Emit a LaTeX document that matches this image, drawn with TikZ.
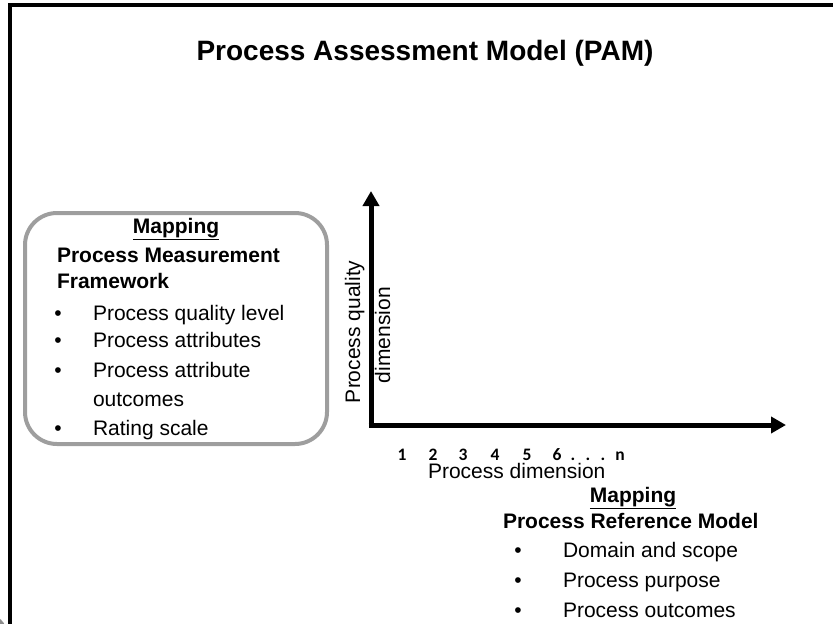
\documentclass[tikz,border=0pt]{standalone}
\usepackage{fontspec}
\setmainfont{Liberation Sans}
\newfontfamily\numfont{Carlito}
\usetikzlibrary{arrows.meta}

\tikzset{
  txt/.style={inner sep=0pt, outer sep=0pt, anchor=base west, font=\fontsize{21}{25}\selectfont},
  hd/.style={txt, font=\fontsize{21}{25}\selectfont\bfseries},
  tick/.style={inner sep=0pt, anchor=base, font=\fontsize{17.5}{19}\selectfont\numfont\bfseries},
  axis/.style={line width=5pt, -{Triangle[length=15pt,width=16pt]}},
  frameline/.style={line width=4pt, black},
  mapbox/.style={draw=black!38, line width=4pt, rounded corners=32pt}
}

\begin{document}
\begin{tikzpicture}[x=1pt, y=-1pt]
  \useasboundingbox (0,0) rectangle (833,624);

  % outer frame: only top and left edges show
  \draw[frameline] (8,5) -- (833,5);
  \draw[frameline] (10,3) -- (10,624);
  \fill[black!45] (-13,634) circle (20);

  % title
  \node[inner sep=0pt, anchor=base, font=\fontsize{28}{32}\selectfont\bfseries] (title) at (425,60)
    {Process Assessment Model (PAM)};

  % measurement framework box
  \draw[mapbox] (25,213) rectangle (327,444);
  \node[hd, anchor=base] (mapL) at (176,233) {\underline{Mapping}};
  \node[hd] (pmf1) at (57,262) {Process Measurement};
  \node[hd] (pmf2) at (57,288) {Framework};
  \foreach \nm/\yy/\tx/\bul in {la/320/Process quality level/1, lb/347/Process attributes/1,
      lc/377/Process attribute/1, ld/406/outcomes/0, le/435/Rating scale/1} {
    \node[txt] (\nm) at (93,\yy) {\tx};
    \ifnum\bul=1
      \node[txt, anchor=base] (\nm b) at (58,\yy) {•};
    \fi
  }

  % axes
  \coordinate (origin) at (371,425);
  \coordinate (ytip) at (371,191);
  \coordinate (xtip) at (786,425);
  \draw[axis] (origin) -- (ytip);
  \draw[axis] ([xshift=-2.5pt]origin) -- (xtip);

  % vertical axis label
  \node[txt, rotate=90] (qual1) at (360,403) {Process quality};
  \node[txt, rotate=90] (qual2) at (390,383) {dimension};

  % horizontal axis ticks and label
  \foreach \nm/\xx/\tx in {t1/402/1, t2/433/2, t3/463/3, t4/495/4, t5/527/5, t6/557/6,
      t7/573/., t8/588/., t9/603/., t10/620/n} {
    \node[tick] (\nm) at (\xx,460) {\tx};
  }
  \node[txt] (pdim) at (428,478) {Process dimension};

  % reference model block
  \node[hd, anchor=base] (mapR) at (633,502) {\underline{Mapping}};
  \node[hd] (prm) at (503,528) {Process Reference Model};
  \foreach \nm/\yy/\tx in {ra/557/Domain and scope, rb/587/Process purpose, rc/617/Process outcomes} {
    \node[txt] (\nm) at (563,\yy) {\tx};
    \node[txt, anchor=base] (\nm b) at (518,\yy) {•};
  }
\end{tikzpicture}
\end{document}
